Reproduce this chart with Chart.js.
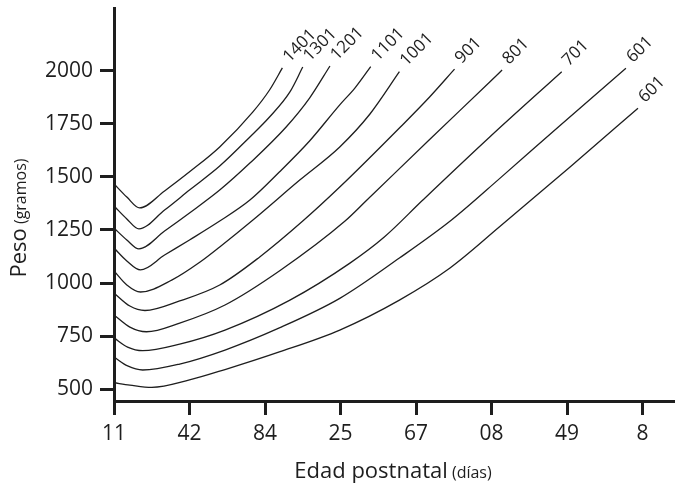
<!DOCTYPE html>
<html lang="es">
<head>
<meta charset="utf-8">
<title>Peso vs edad postnatal</title>
<script src="https://cdn.jsdelivr.net/npm/chart.js@4/dist/chart.umd.min.js"></script>
<style>
    html, body { margin: 0; padding: 0; background: #ffffff; }
    #graficoPeso { display: block; }
</style>
</head>
<body>
<canvas id="graficoPeso" width="675" height="487"></canvas>
<script>
/* ==========================================================================
   Curvas de peso (gramos) según edad postnatal (días)
   ========================================================================== */

// etiquetas del eje X (tal como aparecen) y marcas del eje Y
const etiquetasDias = ["11", "42", "84", "25", "67", "08", "49", "8"];
const marcasDias = [0, 1, 2, 3, 4, 5, 6, 7];
const marcasPeso = [500, 750, 1000, 1250, 1500, 1750, 2000];

// nombre de cada curva (de arriba hacia abajo)
const nombresCurvas = ["1401", "1301", "1201", "1101", "1001", "901", "801", "701", "601", "601"];

// puntos [dia, peso] de cada curva
const curva1401 = [[0, 1467], [0.17, 1405], [0.34, 1354], [0.67, 1434], [1.03, 1532], [1.40, 1641], [1.84, 1806], [2.06, 1909], [2.23, 2013]];
const curva1301 = [[0, 1363], [0.17, 1302], [0.33, 1255], [0.67, 1344], [1.00, 1438], [1.40, 1551], [1.80, 1688], [2.06, 1782], [2.33, 1900], [2.50, 2017]];
const curva1201 = [[0, 1259], [0.17, 1203], [0.33, 1161], [0.67, 1245], [1.00, 1330], [1.40, 1438], [1.80, 1565], [2.28, 1735], [2.59, 1871], [2.86, 2022]];
const curva1101 = [[0, 1165], [0.17, 1104], [0.35, 1062], [0.67, 1132], [1.00, 1203], [1.40, 1292], [1.80, 1391], [2.19, 1523], [2.59, 1669], [2.99, 1839], [3.19, 1918], [3.40, 2019]];
const curva1001 = [[0, 1057], [0.17, 991], [0.35, 958], [0.77, 1015], [1.14, 1099], [1.40, 1170], [1.84, 1297], [2.46, 1485], [2.99, 1641], [3.39, 1796], [3.78, 1995]];
const curva901 = [[0, 953], [0.21, 892], [0.41, 871], [0.87, 916], [1.40, 991], [1.93, 1123], [2.50, 1292], [2.99, 1452], [3.78, 1730], [4.18, 1876], [4.51, 2007]];
const curva801 = [[0, 850], [0.21, 793], [0.43, 771], [0.87, 812], [1.47, 897], [2.19, 1057], [3.06, 1292], [3.35, 1391], [4.18, 1676], [4.98, 1948], [5.14, 2003]];
const curva701 = [[0, 742], [0.18, 699], [0.38, 682], [0.87, 713], [1.47, 779], [2.33, 920], [3.12, 1093], [3.58, 1217], [4.09, 1391], [4.98, 1689], [5.93, 1995]];
const curva601a = [[0, 652], [0.18, 610], [0.38, 591], [0.87, 619], [1.47, 685], [2.19, 789], [2.99, 928], [3.78, 1118], [4.47, 1297], [5.11, 1493], [5.90, 1740], [6.78, 2011]];
const curva601b = [[0, 531], [0.21, 520], [0.50, 509], [1.00, 544], [1.47, 593], [2.19, 676], [2.99, 779], [3.78, 920], [4.45, 1071], [5.11, 1266], [6.04, 1547], [6.94, 1823]];

const curvas = [curva1401, curva1301, curva1201, curva1101, curva1001, curva901, curva801, curva701, curva601a, curva601b];

const COLOR_TINTA = "#1e1e1e";
const FUENTE = "'Open Sans', 'DejaVu Sans', sans-serif";

// etiqueta girada al final de cada curva
const pluginEtiquetasCurvas = {
    id: "etiquetasCurvas",
    afterDatasetsDraw(chart) {
        const ctx = chart.ctx;
        ctx.save();
        ctx.fillStyle = COLOR_TINTA;
        ctx.font = "17px " + FUENTE;
        ctx.textAlign = "left";
        ctx.textBaseline = "alphabetic";

        chart.data.datasets.forEach((ds, i) => {
            const meta = chart.getDatasetMeta(i);
            const ultimo = meta.data[meta.data.length - 1];
            if (!ultimo) return;

            ctx.save();
            ctx.translate(ultimo.x + 7, ultimo.y - 5);
            ctx.rotate(-Math.PI / 4);
            ctx.fillText(ds.label, 0, 0);
            ctx.restore();
        });

        ctx.restore();
    }
};

// títulos de los ejes con la unidad en letra más pequeña
const pluginTitulosEjes = {
    id: "titulosEjes",
    afterDraw(chart) {
        const ctx = chart.ctx;
        ctx.save();
        ctx.fillStyle = COLOR_TINTA;
        ctx.textBaseline = "alphabetic";
        ctx.textAlign = "left";

        dibujarTituloMixto(ctx, "Edad postnatal", " (días)", 393, 478, 0);
        dibujarTituloMixto(ctx, "Peso", " (gramos)", 26, 218, -Math.PI / 2);

        ctx.restore();
    }
};

function dibujarTituloMixto(ctx, principal, unidad, cx, cy, angulo) {
    const fuenteGrande = "22px " + FUENTE;
    const fuenteChica = "16px " + FUENTE;

    ctx.font = fuenteGrande;
    const ancho1 = ctx.measureText(principal).width;
    ctx.font = fuenteChica;
    const ancho2 = ctx.measureText(unidad).width;
    const total = ancho1 + ancho2;

    ctx.save();
    ctx.translate(cx, cy);
    ctx.rotate(angulo);
    ctx.font = fuenteGrande;
    ctx.fillText(principal, -total / 2, 0);
    ctx.font = fuenteChica;
    ctx.fillText(unidad, -total / 2 + ancho1, 0);
    ctx.restore();
}

new Chart(document.getElementById("graficoPeso"), {
    type: "line",
    data: {
        datasets: curvas.map((puntos, i) => ({
            label: nombresCurvas[i],
            data: puntos,
            borderColor: COLOR_TINTA,
            borderWidth: 1.3,
            pointRadius: 0,
            fill: false,
            cubicInterpolationMode: "monotone"
        }))
    },
    options: {
        responsive: false,
        animation: false,
        devicePixelRatio: 1,
        layout: { padding: { top: 8, right: 0, left: 0, bottom: 0 } },
        plugins: {
            legend: { display: false },
            tooltip: { enabled: false }
        },
        scales: {
            x: {
                type: "linear",
                min: 0,
                max: 7.43,
                afterFit: s => {
                    s.height = 86;
                    s.paddingLeft = 0;
                    s.paddingRight = 0;
                },
                afterBuildTicks: s => { s.ticks = marcasDias.map(v => ({ value: v })); },
                border: { display: true, width: 3, color: COLOR_TINTA },
                grid: {
                    drawOnChartArea: false,
                    drawTicks: true,
                    tickLength: 14,
                    tickWidth: 3,
                    tickColor: COLOR_TINTA
                },
                ticks: {
                    color: COLOR_TINTA,
                    padding: 6,
                    maxRotation: 0,
                    font: { family: FUENTE, size: 21 },
                    callback: (v, i) => etiquetasDias[i]
                }
            },
            y: {
                type: "linear",
                min: 445,
                max: 2295,
                afterFit: s => {
                    s.width = 114;
                    s.paddingTop = 0;
                    s.paddingBottom = 0;
                },
                afterBuildTicks: s => { s.ticks = marcasPeso.map(v => ({ value: v })); },
                border: { display: true, width: 3, color: COLOR_TINTA },
                grid: {
                    drawOnChartArea: false,
                    drawTicks: true,
                    tickLength: 14,
                    tickWidth: 3,
                    tickColor: COLOR_TINTA
                },
                ticks: {
                    color: COLOR_TINTA,
                    padding: 7,
                    font: { family: FUENTE, size: 21 },
                    callback: v => String(v)
                }
            }
        }
    },
    plugins: [pluginEtiquetasCurvas, pluginTitulosEjes]
});
</script>
</body>
</html>
